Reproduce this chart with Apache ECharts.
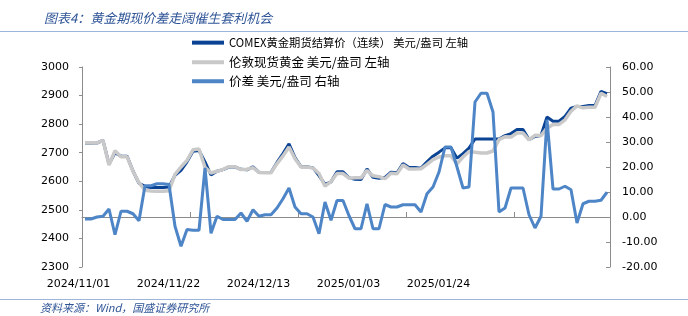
<!DOCTYPE html>
<html>
<head>
<meta charset="utf-8">
<script src="https://cdn.jsdelivr.net/npm/echarts@6/dist/echarts.min.js"></script>
<style>
html,body{margin:0;padding:0;background:#fff;}
#c{width:688px;height:316px;}
</style>
</head>
<body>
<div id="c"></div>
<script>
// ---------- data ----------
const startDate = "2024/11/01";
const pointCount = 88;
const shownLabels = ["2024/11/01", "2024/11/22", "2024/12/13", "2025/01/03", "2025/01/24"];

const comex = [
  2733, 2733, 2734, 2743, 2660, 2700, 2688, 2688, 2636, 2593,
  2582, 2578, 2578, 2578, 2580, 2621, 2638, 2668, 2705, 2708,
  2668, 2622, 2635, 2641, 2650, 2650, 2642, 2640, 2651, 2631,
  2631, 2631, 2666, 2697, 2731, 2683, 2651, 2651, 2647, 2620,
  2589, 2598, 2633, 2633, 2612, 2607, 2606, 2643, 2614, 2611,
  2614, 2632, 2630, 2662, 2648, 2648, 2646, 2668, 2688, 2702,
  2717, 2717, 2681, 2697, 2716, 2748, 2748, 2748, 2748, 2748,
  2760, 2767, 2781, 2781, 2746, 2757, 2760, 2825, 2810, 2810,
  2827, 2856, 2862, 2862, 2865, 2865, 2915, 2907
];
const london = [
  2734, 2734, 2734, 2743, 2657, 2707, 2686, 2686, 2635, 2595,
  2569, 2566, 2565, 2565, 2567, 2624, 2650, 2673, 2710, 2713,
  2649, 2629, 2635, 2642, 2651, 2651, 2641, 2642, 2648, 2631,
  2630, 2630, 2662, 2689, 2720, 2679, 2650, 2650, 2646, 2627,
  2583, 2599, 2627, 2627, 2611, 2612, 2612, 2638, 2619, 2616,
  2609, 2628, 2626, 2657, 2643, 2643, 2644, 2659, 2676, 2685,
  2689, 2689, 2661, 2685, 2704, 2702, 2699, 2699, 2706, 2746,
  2756, 2755, 2769, 2769, 2745, 2761, 2760, 2786, 2799, 2799,
  2815, 2845, 2864, 2857, 2859, 2859, 2908, 2897
];
const spread = [
  -0.8, -0.8, 0.0, 0.3, 3.2, -7.1, 2.3, 2.3, 1.3, -1.5,
  12.5, 12.5, 13.3, 13.3, 13.0, -3.7, -11.7, -5.0, -5.3, -5.3,
  19.6, -6.5, 0.3, -1.0, -1.0, -1.0, 1.6, -1.7, 2.9, 0.3,
  0.9, 0.9, 3.6, 7.3, 11.6, 4.0, 1.3, 1.3, 0.0, -6.7,
  6.0, -1.3, 6.6, 6.6, 0.5, -4.7, -4.7, 5.3, -4.7, -4.7,
  5.0, 4.0, 4.0, 4.9, 4.9, 4.9, 2.0, 9.3, 12.0, 18.0,
  28.0, 28.0, 20.0, 11.6, 12.0, 46.0, 49.5, 49.5, 42.0, 2.0,
  3.6, 11.6, 11.6, 11.6, 0.9, -4.4, 0.3, 38.9, 11.2, 11.2,
  12.3, 10.9, -2.4, 5.3, 6.3, 6.3, 6.7, 9.9
];

const names = [
  "COMEX黄金期货结算价（连续） 美元/盎司 左轴",
  "伦敦现货黄金 美元/盎司 左轴",
  "价差 美元/盎司 右轴"
];

// weekday calendar as categories
function pad(n){return n<10?"0"+n:""+n;}
const categories = [];
(function(){
  const p = startDate.split("/").map(Number);
  const d = new Date(p[0], p[1]-1, p[2]);
  while (categories.length < pointCount) {
    const w = d.getDay();
    if (w !== 0 && w !== 6) categories.push(d.getFullYear()+"/"+pad(d.getMonth()+1)+"/"+pad(d.getDate()));
    d.setDate(d.getDate()+1);
  }
})();

const blueTxt = "#2F5597";
const axisGray = "#8C8C8C";
const numFont = "DejaVu Sans";
const cjkFont = "Noto Sans CJK SC";

const chart = echarts.init(document.getElementById("c"), null, {renderer: "canvas"});
function legendAt(top, name, size){
  return {
    data: [name], left: 192, top: top, orient: "vertical", padding: 0,
    itemWidth: 32, itemHeight: 4, icon: "rect", itemGap: 0,
    textStyle: {fontFamily: cjkFont, fontSize: size, color: "#000"},
    selectedMode: false
  };
}
chart.setOption({
  animation: false,
  backgroundColor: "#fff",
  title: {
    text: "图表4：黄金期现价差走阔催生套利机会",
    left: 39, top: 7,
    textStyle: {fontFamily: cjkFont, fontSize: 13, fontStyle: "italic", fontWeight: "normal", color: blueTxt}
  },
  legend: [
    legendAt(37, names[0], 11.3),
    legendAt(56, names[1], 12.5),
    legendAt(75, names[2], 12.5)
  ],
  grid: {left: 82, right: 78, top: 67, bottom: 49, containLabel: false},
  xAxis: {
    type: "category",
    data: categories,
    boundaryGap: true,
    axisLine: {lineStyle: {color: axisGray, width: 1}},
    axisTick: {show: true, inside: true, length: 5, interval: 17, lineStyle: {color: axisGray}},
    axisLabel: {
      interval: function(i, v){ return shownLabels.indexOf(v) >= 0; },
      fontFamily: numFont, fontSize: 11, color: "#000", margin: 12,
      padding: [0, 13, 0, 0]
    },
    splitLine: {show: false}
  },
  yAxis: [
    {
      type: "value", min: 2300, max: 3000, interval: 100, position: "left",
      axisLine: {show: true, lineStyle: {color: axisGray}},
      axisTick: {show: true, length: 3, lineStyle: {color: axisGray}},
      axisLabel: {fontFamily: numFont, fontSize: 11, color: "#000", margin: 13,
        formatter: function(v){ return String(v); }},
      splitLine: {show: false}
    },
    {
      type: "value", min: -20, max: 60, interval: 10, position: "right",
      axisLine: {show: true, lineStyle: {color: axisGray}},
      axisTick: {show: true, inside: true, length: 4, lineStyle: {color: axisGray}},
      axisLabel: {fontFamily: numFont, fontSize: 11, color: "#000", margin: 12,
        formatter: function(v){ return v.toFixed(2); }},
      splitLine: {show: false}
    }
  ],
  series: [
    {name: names[0], type: "line", yAxisIndex: 0, data: comex, symbol: "none",
      lineStyle: {color: "#0A4394", width: 3}, itemStyle: {color: "#0A4394"}, z: 2},
    {name: names[1], type: "line", yAxisIndex: 0, data: london, symbol: "none",
      lineStyle: {color: "#C9C9C9", width: 3.5}, itemStyle: {color: "#C9C9C9"}, z: 3},
    {name: names[2], type: "line", yAxisIndex: 1, data: spread, symbol: "none",
      lineStyle: {color: "#4D85C7", width: 3}, itemStyle: {color: "#4D85C7"}, z: 4}
  ],
  graphic: [
    {type: "line", shape: {x1: 0, y1: 31.5, x2: 688, y2: 31.5}, style: {stroke: "#9DB5DB", lineWidth: 1}},
    {type: "line", shape: {x1: 0, y1: 299.5, x2: 688, y2: 299.5}, style: {stroke: "#9DB5DB", lineWidth: 1}},
    {type: "text", left: 40, top: 302,
      style: {text: "资料来源：Wind，国盛证券研究所", font: "italic 11px 'Noto Sans CJK SC'", fill: blueTxt}}
  ]
});
</script>
</body>
</html>
